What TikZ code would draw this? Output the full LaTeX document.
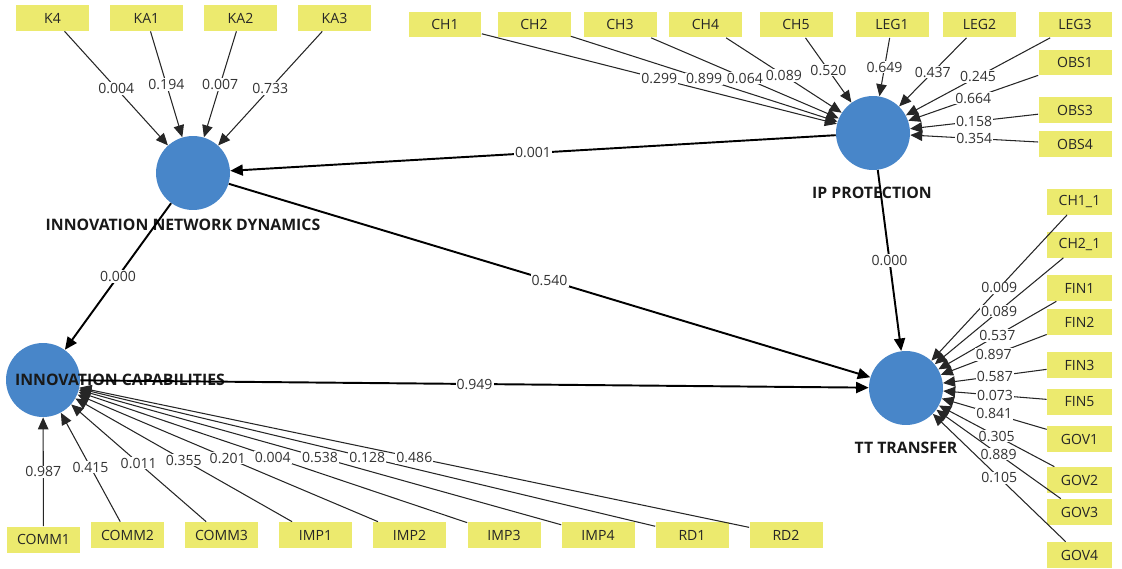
\documentclass[tikz,border=0pt]{standalone}
\usepackage{fontspec}
\setmainfont{Open Sans}
\usepackage{xcolor}
\usepackage{tikz}
\usetikzlibrary{arrows.meta,calc}

\definecolor{lvblue}{RGB}{72,134,201}
\definecolor{mvyellow}{RGB}{236,234,110}

\begin{document}
\begin{tikzpicture}[
  x=0.02cm, y=-0.02cm,
  lv/.style={circle, fill=lvblue, minimum size=1.48cm, inner sep=0pt},
  lvname/.style={font=\fontsize{9}{10}\selectfont\bfseries, text=black!90},
  mv/.style={fill=mvyellow, minimum width=1.46cm, minimum height=0.52cm, inner sep=0pt, font=\fontsize{8}{9}\selectfont, text=black!85},
  mvr/.style={mv, minimum width=1.3cm},
  coef/.style={fill=white, inner sep=0.6pt, font=\fontsize{8}{9}\selectfont, text=black!80},
  outer/.style={-{Triangle[length=2.4mm,width=2.1mm]}, draw=black!85, line width=0.6pt},
  inner/.style={-{Triangle[length=2.5mm,width=2.2mm]}, draw=black, line width=1.1pt}
]
\useasboundingbox (0,0) rectangle (1122,568);

% latent variables
\node[lv] (ind) at (193,173) {};
\node[lv] (ip) at (873,133) {};
\node[lv] (ic) at (43,380) {};
\node[lv] (tt) at (906,388) {};
\node[lvname] (indname) at (183,225) {INNOVATION NETWORK DYNAMICS};
\node[lvname] (ipname) at (872,193) {IP PROTECTION};
\node[lvname] (icname) at (120,380) {INNOVATION CAPABILITIES};
\node[lvname] (ttname) at (906,448) {TT TRANSFER};

% indicators
\foreach \n/\x/\y/\t in {k4/52.5/18/K4, ka1/146.5/18/KA1, ka2/240.5/18/KA2, ka3/334.5/18/KA3,
    ch1/445/24.5/CH1, ch2/534/24.5/CH2, ch3/620/24.5/CH3, ch4/705.5/24.5/CH4, ch5/796/24.5/CH5,
    leg1/892/24.5/LEG1, leg2/979.5/24.5/LEG2, leg3/1075/24.5/LEG3,
    obs1/1075/62.5/OBS1, obs3/1075/110/OBS3, obs4/1075/144/OBS4,
    comm1/43.5/539.5/COMM1, comm2/127.5/535/COMM2, comm3/221.5/535/COMM3,
    imp1/315.5/535/IMP1, imp2/409.5/535/IMP2, imp3/504/535/IMP3, imp4/598/535/IMP4,
    rd1/692/535/RD1, rd2/786/535/RD2}
  \node[mv] (\n) at (\x,\y) {\t};
\foreach \n/\y/\t in {ch11/201.5/CH1\_1, ch21/244.5/CH2\_1, fin1/288/FIN1, fin2/322/FIN2,
    fin3/365/FIN3, fin5/402/FIN5, gov1/439/GOV1, gov2/480/GOV2, gov3/512/GOV3, gov4/555/GOV4}
  \node[mvr] (\n) at (1079.5,\y) {\t};

% outer weights
\foreach \s/\v in {k4/0.004, ka1/0.194, ka2/0.007, ka3/0.733}
  \draw[outer] (\s) -- node[coef] {\v} (ind);
\foreach \s/\v in {ch1/0.299, ch2/0.899, ch3/0.064, ch4/0.089, ch5/0.520, leg1/0.649,
    leg2/0.437, leg3/0.245, obs1/0.664, obs3/0.158, obs4/0.354}
  \draw[outer] (\s) -- node[coef] {\v} (ip);
\foreach \s/\v in {comm1/0.987, comm2/0.415, comm3/0.011, imp1/0.355, imp2/0.201,
    imp3/0.004, imp4/0.538, rd1/0.128, rd2/0.486}
  \draw[outer] (\s) -- node[coef] {\v} (ic);
\foreach \s/\v in {ch11/0.009, ch21/0.089, fin1/0.537, fin2/0.897, fin3/0.587,
    fin5/0.073, gov1/0.841, gov2/0.305, gov3/0.889, gov4/0.105}
  \draw[outer] (\s) -- node[coef] {\v} (tt);

% inner model
\draw[inner] (ip) -- node[coef] {0.001} (ind);
\draw[inner] (ind) -- node[coef] {0.000} (ic);
\draw[inner] (ind) -- node[coef] {0.540} (tt);
\draw[inner] (ip) -- node[coef] {0.000} (tt);
\draw[inner] (ic) -- node[coef] {0.949} (tt);
\end{tikzpicture}
\end{document}
